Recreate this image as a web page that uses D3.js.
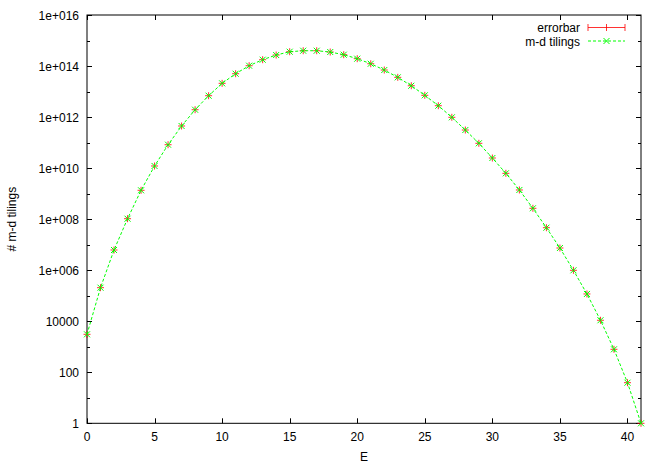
<!DOCTYPE html>
<html>
<head>
<meta charset="utf-8">
<script src="https://cdn.jsdelivr.net/npm/d3@7"></script>
<style>
  html, body { margin: 0; padding: 0; background: #fff; }
  svg { display: block; }
  text { font-family: "Liberation Sans", Arial, sans-serif; font-size: 12px; fill: #000; }
</style>
</head>
<body>
<svg id="chart" width="664" height="465"></svg>
<script>
// ---- data ----
const energies = [0,1,2,3,4,5,6,7,8,9,10,11,12,13,14,15,16,17,18,19,20,21,22,23,24,25,26,27,28,29,30,31,32,33,34,35,36,37,38,39,40,41];
const tilings = [3070, 2.06e5, 6.18e6, 1.04e8, 1.35e9, 1.21e10, 8.26e10, 4.47e11, 1.94e12, 6.87e12,
  2.10e13, 5.0e13, 1.03e14, 1.77e14, 2.70e14, 3.64e14, 3.98e14, 3.98e14, 3.54e14, 2.78e14,
  1.94e14, 1.23e14, 6.98e13, 3.61e13, 1.69e13, 7.13e12, 2.79e12, 9.8e11, 3.11e11, 9.38e10,
  2.49e10, 6.25e9, 1.39e9, 2.66e8, 4.62e7, 7.4e6, 9.89e5, 1.17e5, 1.09e4, 794, 39, 1];
const xTicks = [0,5,10,15,20,25,30,35,40];
const yMajorTicks = [1, 1e2, 1e4, 1e6, 1e8, 1e10, 1e12, 1e14, 1e16];
const yMajorLabels = ["1", "100", "10000", "1e+006", "1e+008", "1e+010", "1e+012", "1e+014", "1e+016"];
const yMinorTicks = [10, 1e3, 1e5, 1e7, 1e9, 1e11, 1e13, 1e15];
const seriesNames = ["errorbar", "m-d tilings"];

// ---- layout ----
const L = 87, R = 641, T = 15, B = 423.3;
const svg = d3.select("#chart");
const x = d3.scaleLinear().domain([0, 41]).range([L, R]);
const y = d3.scaleLog().domain([1, 1e16]).range([B, T]);

const red = "#ff0000", green = "#00ff00";
const majorLen = 5, minorLen = 3;

const g = svg.append("g");

// ticks (inward, mirrored)
xTicks.forEach(v => {
  const px = Math.round(x(v)) + 0.5;
  g.append("line").attr("x1", px).attr("x2", px).attr("y1", B).attr("y2", B - majorLen).attr("stroke", "#000");
  g.append("line").attr("x1", px).attr("x2", px).attr("y1", T).attr("y2", T + majorLen).attr("stroke", "#000");
  g.append("text").attr("x", x(v)).attr("y", 441).attr("text-anchor", "middle").text(v);
});
yMajorTicks.forEach((v, i) => {
  const py = Math.round(y(v)) + 0.5;
  g.append("line").attr("x1", L).attr("x2", L + majorLen).attr("y1", py).attr("y2", py).attr("stroke", "#000");
  g.append("line").attr("x1", R).attr("x2", R - majorLen).attr("y1", py).attr("y2", py).attr("stroke", "#000");
  g.append("text").attr("x", 79).attr("y", y(v) + 4.5).attr("text-anchor", "end").text(yMajorLabels[i]);
});
yMinorTicks.forEach(v => {
  const py = Math.round(y(v)) + 0.5;
  g.append("line").attr("x1", L).attr("x2", L + minorLen).attr("y1", py).attr("y2", py).attr("stroke", "#000");
  g.append("line").attr("x1", R).attr("x2", R - minorLen).attr("y1", py).attr("y2", py).attr("stroke", "#000");
});

// border
g.append("rect").attr("x", L).attr("y", T).attr("width", R - L).attr("height", B - T)
  .attr("fill", "none").attr("stroke", "#000").attr("stroke-width", 1);

// axis labels
g.append("text").attr("x", x(20.5)).attr("y", 461).attr("text-anchor", "middle").text("E");
g.append("text").attr("transform", "translate(16," + ((T + B) / 2) + ") rotate(-90)")
  .attr("text-anchor", "middle").text("# m-d tilings");

const pts = energies.map((e, i) => ({ e: e, v: tilings[i] }));

// errorbar series: red + markers (with tiny error bars)
const eb = g.append("g").attr("stroke", red).attr("stroke-width", 1).attr("stroke-opacity", 0.8);
pts.forEach(p => {
  const px = x(p.e), py = y(p.v);
  eb.append("line").attr("x1", px - 3.5).attr("x2", px + 3.5).attr("y1", py).attr("y2", py);
  eb.append("line").attr("x1", px).attr("x2", px).attr("y1", py - 3.5).attr("y2", py + 3.5);
});

// m-d tilings series: green dashed line with x markers
const line = d3.line().x(d => x(d.e)).y(d => y(d.v));
g.append("path").datum(pts).attr("d", line).attr("fill", "none")
  .attr("stroke", green).attr("stroke-width", 1).attr("stroke-dasharray", "3,2");
const mk = g.append("g").attr("stroke", green).attr("stroke-width", 1);
pts.forEach(p => {
  const px = x(p.e), py = y(p.v);
  mk.append("line").attr("x1", px - 3).attr("x2", px + 3).attr("y1", py - 3).attr("y2", py + 3);
  mk.append("line").attr("x1", px - 3).attr("x2", px + 3).attr("y1", py + 3).attr("y2", py - 3);
});

// legend
const lg = g.append("g");
const lx1 = 588, lx2 = 625, lmid = (lx1 + lx2) / 2;
const ly1 = 27.5, ly2 = 41;
lg.append("text").attr("x", 580).attr("y", ly1 + 4.5).attr("text-anchor", "end").text(seriesNames[0]);
lg.append("text").attr("x", 580).attr("y", ly2 + 4.5).attr("text-anchor", "end").text(seriesNames[1]);
const lr = lg.append("g").attr("stroke", red).attr("stroke-opacity", 0.8);
lr.append("line").attr("x1", lx1).attr("x2", lx2).attr("y1", ly1).attr("y2", ly1);
lr.append("line").attr("x1", lx1).attr("x2", lx1).attr("y1", ly1 - 3.5).attr("y2", ly1 + 3.5);
lr.append("line").attr("x1", lx2).attr("x2", lx2).attr("y1", ly1 - 3.5).attr("y2", ly1 + 3.5);
lr.append("line").attr("x1", lmid).attr("x2", lmid).attr("y1", ly1 - 3.5).attr("y2", ly1 + 3.5);
const lgn = lg.append("g").attr("stroke", green);
lgn.append("line").attr("x1", lx1).attr("x2", lx2).attr("y1", ly2).attr("y2", ly2).attr("stroke-dasharray", "3,2");
lgn.append("line").attr("x1", lmid - 3).attr("x2", lmid + 3).attr("y1", ly2 - 3).attr("y2", ly2 + 3);
lgn.append("line").attr("x1", lmid - 3).attr("x2", lmid + 3).attr("y1", ly2 + 3).attr("y2", ly2 - 3);
</script>
</body>
</html>
